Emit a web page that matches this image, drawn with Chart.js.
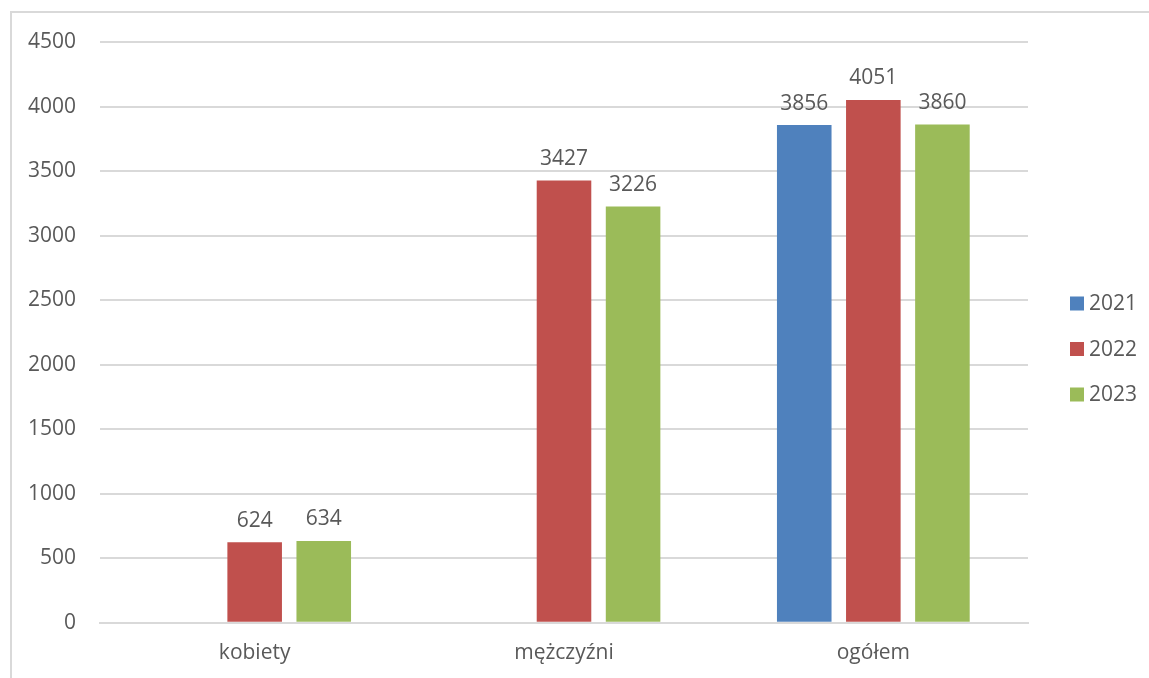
<!DOCTYPE html>
<html>
<head>
<meta charset="utf-8">
<script src="https://cdn.jsdelivr.net/npm/chart.js@4.4.0/dist/chart.umd.min.js"></script>
<style>
  html, body { margin: 0; padding: 0; background: #fff; }
  #wrap { width: 1149px; height: 678px; }
</style>
</head>
<body>
<div id="wrap"><canvas id="chart"></canvas></div>
<script>
// categories + series
const categories = ['kobiety', 'mężczyźni', 'ogółem'];
const years = ['2021', '2022', '2023'];
const values2021 = [null, null, 3856];
const values2022 = [624, 3427, 4051];
const values2023 = [634, 3226, 3860];
const yTicks = [0, 500, 1000, 1500, 2000, 2500, 3000, 3500, 4000, 4500];

const C = {
  blue:  '#4F81BD',
  red:   '#C0504D',
  green: '#9BBB59',
  text:  '#595959',
  grid:  '#D9D9D9',
  font:  "'Open Sans', 'DejaVu Sans', sans-serif",
};
const FS = 21;

// light frame around the chart (only top + left show in the picture)
const framePlugin = {
  id: 'frame',
  beforeDraw(chart) {
    const ctx = chart.ctx;
    ctx.save();
    ctx.strokeStyle = '#D9D9D9';
    ctx.lineWidth = 2;
    ctx.strokeRect(11, 12, chart.width + 20, chart.height + 20);
    ctx.restore();
  }
};

// value labels above each bar
const valueLabels = {
  id: 'valueLabels',
  afterDatasetsDraw(chart) {
    const ctx = chart.ctx;
    ctx.save();
    ctx.fillStyle = C.text;
    ctx.font = FS + 'px ' + C.font;
    ctx.textAlign = 'center';
    ctx.textBaseline = 'bottom';
    chart.data.datasets.forEach((ds, i) => {
      chart.getDatasetMeta(i).data.forEach((bar, j) => {
        if (ds.data[j] == null) return;
        ctx.fillText(ds.data[j], bar.x, bar.y - 11);
      });
    });
    ctx.restore();
  }
};

// legend on the right, drawn by hand so it can sit where excel put it
const sideLegend = {
  id: 'sideLegend',
  afterDraw(chart) {
    const ctx = chart.ctx;
    const a = chart.chartArea;
    const x = a.right + 42;
    const step = 45.5;
    const y0 = chart.height / 2 + 10 - step;
    ctx.save();
    ctx.font = FS + 'px ' + C.font;
    ctx.textBaseline = 'middle';
    chart.data.datasets.forEach((ds, i) => {
      const y = y0 + i * step;
      ctx.fillStyle = ds.backgroundColor;
      ctx.fillRect(x, y - 7, 14, 14);
      ctx.fillStyle = C.text;
      ctx.fillText(ds.label, x + 19, y + 1);
    });
    ctx.restore();
  }
};

new Chart(document.getElementById('chart'), {
  type: 'bar',
  data: {
    labels: categories,
    datasets: [
      { label: years[0], data: values2021, backgroundColor: C.blue },
      { label: years[1], data: values2022, backgroundColor: C.red },
      { label: years[2], data: values2023, backgroundColor: C.green },
    ]
  },
  options: {
    responsive: true,
    maintainAspectRatio: false,
    animation: false,
    datasets: { bar: { categoryPercentage: 0.67, barPercentage: 0.79 } },
    layout: { padding: { top: 42, right: 121, bottom: 2, left: 24 } },
    plugins: {
      tooltip: { enabled: false },
      legend: { display: false }
    },
    scales: {
      x: {
        grid: { display: false },
        border: { color: C.grid, width: 2 },
        ticks: { color: C.text, font: { family: C.font, size: FS }, padding: 10 }
      },
      y: {
        min: 0,
        max: 4500,
        afterBuildTicks(scale) { scale.ticks = yTicks.map(v => ({ value: v })); },
        afterFit(scale) { scale.width = 76; },
        grid: { color: C.grid, lineWidth: 2, drawTicks: false },
        border: { display: false },
        ticks: {
          color: C.text,
          font: { family: C.font, size: FS },
          padding: 24,
          callback: v => String(v)
        }
      }
    }
  },
  plugins: [framePlugin, valueLabels, sideLegend]
});
</script>
</body>
</html>
